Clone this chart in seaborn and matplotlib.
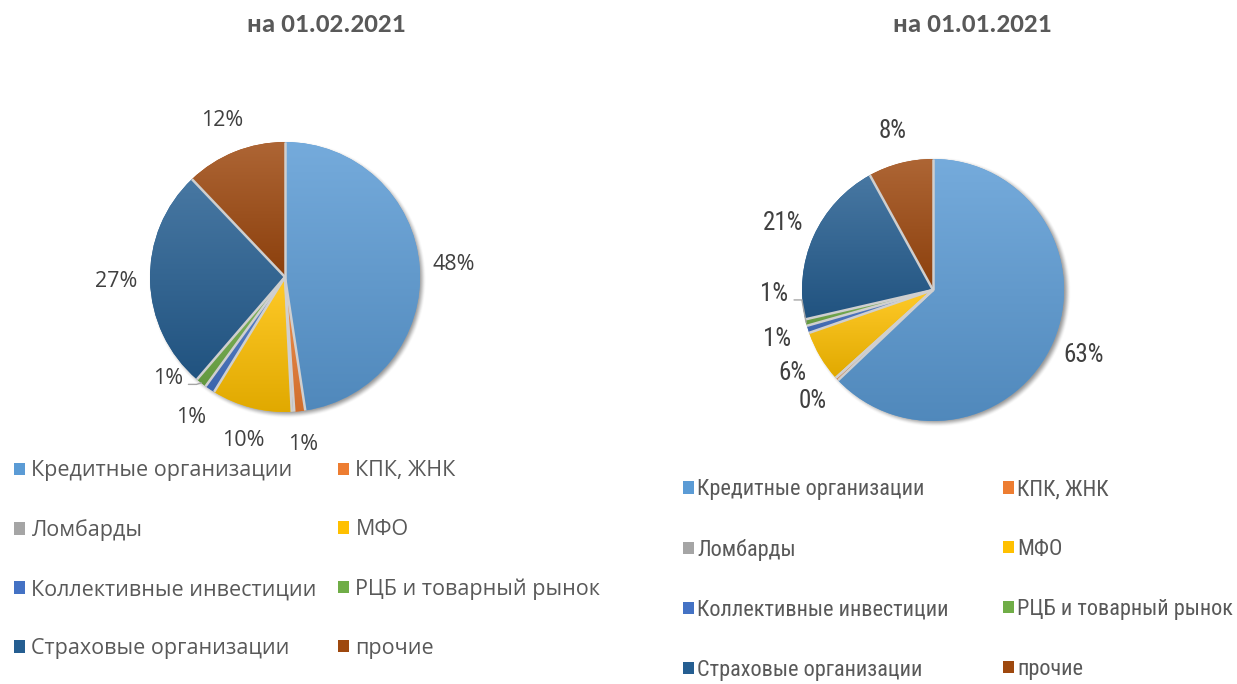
import numpy as np
import matplotlib
matplotlib.use("Agg")
import matplotlib.pyplot as plt
import seaborn as sns
from matplotlib.patches import Patch
from matplotlib import colors as mcolors
from matplotlib import font_manager

# ---- data -----------------------------------------------------------------
categories = [
    "Кредитные организации", "КПК, ЖНК", "Ломбарды", "МФО",
    "Коллективные инвестиции", "РЦБ и товарный рынок",
    "Страховые организации", "прочие",
]
shares_feb = [47.6, 1.3, 0.3, 9.6, 1.2, 1.3, 26.6, 12.1]   # на 01.02.2021, %
shares_jan = [62.9, 0.4, 0.0, 6.4, 0.9, 0.8, 20.6, 8.0]    # на 01.01.2021, %
chart_titles = ["на 01.02.2021", "на 01.01.2021"]
accent_hex = ["#5B9BD5", "#ED7D31", "#A5A5A5", "#FFC000",
              "#4472C4", "#70AD47", "#255E91", "#9E480E"]
unlabeled = {"Ломбарды"}

# ---- style ----------------------------------------------------------------
sns.set_theme(style="white")
palette = sns.color_palette(accent_hex)


def first_family(*names):
    for name in names:
        try:
            font_manager.findfont(name, fallback_to_default=False)
            return name
        except ValueError:
            continue
    return "DejaVu Sans"


LEFT_FONT = first_family("Open Sans", "Noto Sans")
NARROW_FONT = first_family("Liberation Sans Narrow", "Roboto Condensed", "Roboto")
NARROW_IS_CONDENSED = NARROW_FONT != "Roboto"
TITLE_FONT = first_family("Carlito", "Open Sans")
LABEL_COLOR = "#404040"
LEGEND_COLOR = "#595959"

W, H = 1237, 684
fig = plt.figure(figsize=(W / 100, H / 100), dpi=100)
fig.patch.set_facecolor("white")


def px_axes(cx, cy, r, half=1.6):
    """Square axes centred on pixel (cx, cy) where one data unit = r pixels."""
    side = 2 * half * r
    ax = fig.add_axes([(cx - side / 2) / W, 1 - (cy + side / 2) / H, side / W, side / H])
    return ax, half, r


def soft_shadow(ax, r_px):
    """Blurred drop shadow under the pie, offset down and to the right."""
    n = 600
    g = np.linspace(-1.2, 1.2, n)
    xx, yy = np.meshgrid(g, g[::-1])
    off = 2.5 / r_px
    d = np.hypot(xx - off, yy + off)
    blur = 4.0 / r_px
    t = np.clip((d - (1 - blur)) / (2 * blur), 0, 1)
    alpha = 0.55 * (1 - (3 * t ** 2 - 2 * t ** 3))
    rgba = np.zeros((n, n, 4))
    rgba[..., :3] = 0.25
    rgba[..., 3] = alpha
    ax.imshow(rgba, extent=(-1.2, 1.2, -1.2, 1.2), origin="upper",
              interpolation="bilinear", zorder=0.5)


def gradient_fill(ax, wedge, color):
    v = wedge.get_path().vertices
    x0, x1 = v[:, 0].min(), v[:, 0].max()
    y0, y1 = v[:, 1].min(), v[:, 1].max()
    rgb = np.array(mcolors.to_rgb(color))
    top = rgb + (1 - rgb) * 0.16
    bot = rgb * 0.88
    t = np.linspace(0, 1, 256)[:, None]
    grad = (top * (1 - t) + bot * t)[:, None, :]
    im = ax.imshow(grad, extent=(x0, x1, y0, y1), origin="upper",
                   aspect="auto", interpolation="bilinear", zorder=2)
    im.set_clip_path(wedge)


def draw_pie(ax, half, r_px, values, font, size, nudge):
    soft_shadow(ax, r_px)
    wedges, _ = ax.pie(values, colors=palette, startangle=90, counterclock=False,
                       radius=1.0, wedgeprops=dict(linewidth=0))
    for w, c in zip(wedges, palette):
        if w.theta2 - w.theta1 > 1e-6:
            gradient_fill(ax, w, c)
    # light separators between slices
    for w in wedges:
        b = np.deg2rad(w.theta1)
        ax.plot([0, np.cos(b)], [0, np.sin(b)], color="#cfcfcf", lw=1.8,
                solid_capstyle="butt", zorder=3)
    for name, val, w in zip(categories, values, wedges):
        if name in unlabeled:
            continue
        a = np.deg2rad((w.theta1 + w.theta2) / 2)
        x, y = 1.25 * np.cos(a), 1.25 * np.sin(a)
        dx, dy = nudge.get(name, (0.0, 0.0))
        ax.text(x + dx, y + dy, f"{val:.0f}%", ha="center", va="center",
                family=font, size=size, color=LABEL_COLOR, zorder=5)
        if name in nudge:
            lx, ly = x + dx + 0.15, y + dy - 0.045
            ax.plot([lx, lx + 0.06, np.cos(a)], [ly, ly, np.sin(a)],
                    color="#a6a6a6", lw=1.0, zorder=4)
    ax.set_xlim(-half, half)
    ax.set_ylim(-half, half)
    ax.set_aspect("equal")
    ax.axis("off")


def draw_legend(x_cols, y_first, pitch, font, size, textpad):
    fs_px = size * 100 / 72
    row_h = fs_px * 0.98
    handles = [Patch(facecolor=c, edgecolor="none") for c in palette]
    for col, xpx in enumerate(x_cols):
        idx = list(range(col, len(categories), 2))
        fig.legend([handles[i] for i in idx], [categories[i] for i in idx],
                   loc="upper left",
                   bbox_to_anchor=(xpx / W, 1 - (y_first - 0.4 * fs_px) / H),
                   frameon=False, prop=dict(family=font, size=size),
                   labelcolor=LEGEND_COLOR, handlelength=11 / fs_px,
                   handleheight=11 / fs_px, handletextpad=textpad,
                   borderpad=0, borderaxespad=0,
                   labelspacing=(pitch - row_h) / fs_px)


# ---- left chart: 01.02.2021 ------------------------------------------------
axL, hL, rL = px_axes(285, 277, 135)
draw_pie(axL, hL, rL, shares_feb, LEFT_FONT, 15.5,
         {"РЦБ и товарный рынок": (-0.09, 0.23)})
fig.text(326 / W, 1 - 25 / H, chart_titles[0], ha="center", va="center",
         family=TITLE_FONT, weight="bold", size=19.5, color=LEGEND_COLOR)
draw_legend([14, 338], 469, 59, LEFT_FONT, 15.5, 0.3)

# ---- right chart: 01.01.2021 -----------------------------------------------
r_legend = 16 if NARROW_IS_CONDENSED else 14
r_label = 18 if NARROW_IS_CONDENSED else 16
axR, hR, rR = px_axes(933, 290, 131)
draw_pie(axR, hR, rR, shares_jan, NARROW_FONT, r_label,
         {"РЦБ и товарный рынок": (0.0, 0.28)})
fig.text(972 / W, 1 - 25 / H, chart_titles[1], ha="center", va="center",
         family=TITLE_FONT, weight="bold", size=19.5, color=LEGEND_COLOR)
draw_legend([683, 1003], 488, 60.7, NARROW_FONT, r_legend, 0.15)

fig.savefig("out.png", dpi=100, facecolor="white")
